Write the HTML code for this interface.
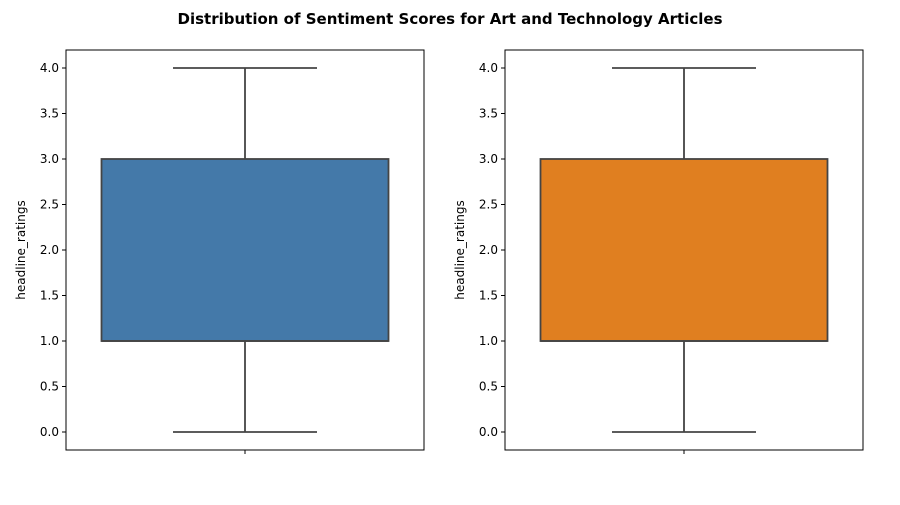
<!DOCTYPE html>
<html><head><meta charset="utf-8"><style>
body{margin:0;background:#fff}
svg{font-family:"DejaVu Sans","Liberation Sans",sans-serif}
</style></head><body>
<svg id="c" width="900" height="500" xmlns="http://www.w3.org/2000/svg">
<text x="450" y="24" text-anchor="middle" font-size="15" font-weight="bold">Distribution of Sentiment Scores for Art and Technology Articles</text>
</svg>
<script>
const panels=["art","technology"];
const colors=["#4479a9","#e07f20"];
const mins=[0,0];
const q1s=[1,1];
const medians=[1,1];
const q3s=[3,3];
const maxs=[4,4];
const ticks=[0,0.5,1,1.5,2,2.5,3,3.5,4];
const tickLabels=["0.0","0.5","1.0","1.5","2.0","2.5","3.0","3.5","4.0"];
const svg=document.getElementById('c');
const NS="http://www.w3.org/2000/svg";
function mk(t,a,p){const e=document.createElementNS(NS,t);for(const k in a)e.setAttribute(k,a[k]);(p||svg).appendChild(e);return e;}
const y=v=>432-v*91;
const lefts=[66,505], W=358;
panels.forEach((p,i)=>{
  const L=lefts[i], cx=L+W/2, hw=143.5, cw=72;
  const g=mk('g',{});
  
  
  const ln=(x1,y1,x2,y2,n)=>{const e=mk('line',{x1,y1,x2,y2,stroke:'#444','stroke-width':1.8},g);return e;};
  ln(cx,y(q3s[i]),cx,y(maxs[i]),'upper-whisker-'+p);
  ln(cx,y(mins[i]),cx,y(q1s[i]),'lower-whisker-'+p);
  ln(cx-cw,y(maxs[i]),cx+cw,y(maxs[i]),'upper-cap-'+p);
  ln(cx-cw,y(mins[i]),cx+cw,y(mins[i]),'lower-cap-'+p);
  const b=mk('rect',{x:cx-hw,y:y(q3s[i]),width:2*hw,height:y(q1s[i])-y(q3s[i]),fill:colors[i],stroke:'#444','stroke-width':1.8},g);
  
  
  ln(cx-hw,y(medians[i]),cx+hw,y(medians[i]),'median-'+p);
  const f=mk('rect',{x:L,y:50,width:W,height:400,fill:'none',stroke:'#000','stroke-width':1},g);
  
  
  ticks.forEach((t,j)=>{
    mk('line',{x1:L-4,y1:y(t),x2:L,y2:y(t),stroke:'#000'},g);
    const tx=mk('text',{x:L-7,y:y(t)+4,'text-anchor':'end','font-size':12},g);
    tx.textContent=tickLabels[j];
    
    
  });
  mk('line',{x1:cx,y1:450,x2:cx,y2:454,stroke:'#000'},g);
  const yt=mk('text',{x:0,y:0,'text-anchor':'middle','font-size':12,transform:`translate(${L-41},250) rotate(-90)`},g);
  yt.textContent='headline_ratings';
  
  
});
</script>
</body></html>
